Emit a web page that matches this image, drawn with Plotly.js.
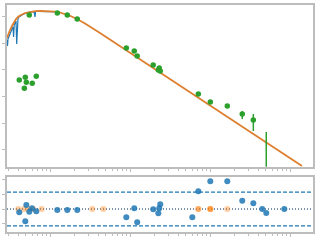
<!DOCTYPE html>
<html><head><meta charset="utf-8">
<script src="https://cdn.plot.ly/plotly-3.0.1.min.js"></script>
<style>html,body{margin:0;padding:0;background:#fff}#c{width:320px;height:240px}</style>
</head><body><div id="c"></div>
<script>
// spectrum (observed)
const specX = [0.290,0.2943,0.2985,0.3072,0.3162,0.3255,0.3350,0.3447,0.3508,0.3569,0.3652,0.3758,0.3835,0.3902,0.3981,0.4097,0.4217,0.4467,0.4732,0.5012,0.5309,0.5623,0.5957,0.6310,0.6494,0.6607,0.7079,0.7943,0.8913,1.0,1.122];
const specY = [0.1331,0.0791,0.1451,0.1881,0.2439,0.2901,0.3448,0.4101,0.1725,0.4875,0.5797,0.6893,0.0941,0.7516,0.8557,0.9743,1.0624,1.1585,1.263,1.377,1.438,1.502,1.528,1.555,0.9743,1.569,1.582,1.596,1.569,1.542,1.502];
// model SED
const modelX = [0.290,0.2985,0.3162,0.335,0.3548,0.3758,0.3981,0.4217,0.4870,0.5623,0.6494,0.7499,0.8660,1.0,1.1548,1.3335,1.5399,1.7783,2.1754,2.7384,4.217,17.78,74.99,316.2,1412.5];
const modelY = [0.1582,0.2051,0.3162,0.4471,0.6321,0.8194,0.9743,1.1095,1.377,1.528,1.610,1.638,1.638,1.610,1.555,1.438,1.263,1.081,0.819,0.5553,0.2439,0.01414,8.195e-4,4.75e-5,2.46e-6];
// photometry
const photX = [0.551,1.234,1.645,2.19,0.413,0.491,0.506,0.478,0.600,0.674,8.99,11.3,12.3,19.5,22.6,23.2,23.9,71.4,100.9,164.5,253,348,505];
const photY = [1.16,1.377,1.16,0.819,0.00417,0.00527,0.00342,0.00203,0.00313,0.00574,0.0666,0.0514,0.0333,0.01528,0.0099,0.01178,0.00909,0.00124,0.000621,0.000440,0.000220,0.0001306,1e-6];
const photErrUp = [0.1,0.1,0.1,0.08,0.0005,0.0006,0.0004,0.0002,0.0004,0.0006,0,0,0,0,0,0,0,0,0,0,0.000065,0.0000894,0.0000453];
const photErrDn = [0.1,0.1,0.1,0.08,0.0005,0.0006,0.0004,0.0002,0.0004,0.0006,0,0,0,0,0,0,0,0,0,0,0.000077,0.0000801,0.0000005];
// residuals
const resX = [0.413,0.506,0.491,0.551,0.596,0.674,1.234,1.645,2.19,8.99,11.3,12.3,19.5,22.6,23.2,23.9,60.1,71.4,100.9,164.5,253,348,450,505,849];
const resY = [-0.226,0.274,-0.842,-0.185,0.048,-0.158,-0.068,-0.068,-0.068,-0.568,0.048,-0.911,-0.021,-0.295,0.048,0.322,-0.568,1.212,1.897,1.897,0.568,0.390,0,-0.274,0];
const resModX = [0.401,0.473,0.535,0.618,0.787,3.38,4.64,71.4,71.4,100.9,100.9,100.9,164.5];
const resModY = [0,0,0,0,0,0,0,0,0,0,0,0,0];
const resLimit = 1.16;

const blue = '#1f77b4', orange = '#ff7f0e', green = '#2ca02c';
const traces = [
  {x: specX, y: specY, type:'scatter', mode:'lines', line:{color:blue, width:1.2}, xaxis:'x', yaxis:'y', hoverinfo:'none'},
  {x: modelX, y: modelY, type:'scatter', mode:'lines', line:{color:'#dd7f2f', width:1.8}, xaxis:'x', yaxis:'y', hoverinfo:'none'},
  {x: photX, y: photY, type:'scatter', mode:'markers', marker:{color:green, size:5.5},
   error_y:{type:'data', symmetric:false, array:photErrUp, arrayminus:photErrDn, color:green, thickness:1.5, width:0},
   xaxis:'x', yaxis:'y', hoverinfo:'none'},
  {x: resModX, y: resModY, type:'scatter', mode:'markers', marker:{color:orange, size:6, opacity:0.4}, xaxis:'x2', yaxis:'y2', hoverinfo:'none'},
  {x: resX, y: resY, type:'scatter', mode:'markers', marker:{color:blue, size:6, opacity:0.85}, xaxis:'x2', yaxis:'y2', hoverinfo:'none'}
];
const frame = '#bdbdbd';
const xcommon = {type:'log', range:[-0.5375,3.2875], dtick:1, showticklabels:false, ticks:'outside', ticklen:3, tickcolor:frame, tickwidth:1,
  minor:{ticks:'outside', ticklen:2, tickcolor:frame, tickwidth:1}, showline:true, mirror:true, linecolor:frame, linewidth:2, showgrid:false, zeroline:false};
const layout = {
  width:320, height:240, margin:{l:7, r:7, t:5, b:8}, showlegend:false,
  paper_bgcolor:'#fff', plot_bgcolor:'#fff',
  xaxis: Object.assign({anchor:'y'}, xcommon),
  xaxis2: Object.assign({anchor:'y2', matches:'x'}, xcommon),
  yaxis: {type:'log', domain:[0.2877,1], range:[-5.639,0.4398], dtick:1, showticklabels:false, ticks:'outside', ticklen:3, tickcolor:frame,
    showline:true, mirror:true, linecolor:frame, linewidth:2, showgrid:false, zeroline:false, anchor:'x'},
  yaxis2: {domain:[0,0.2401], range:[-1.575,2.158], dtick:1, tick0:0, showticklabels:false, ticks:'outside', ticklen:3, tickcolor:frame,
    showline:true, mirror:true, linecolor:frame, linewidth:2, showgrid:false, zeroline:false, anchor:'x2'},
  shapes: [
    {type:'line', xref:'x2 domain', yref:'y2', x0:0, x1:1, y0:resLimit, y1:resLimit, line:{color:blue, width:1.3, dash:'4px,2px'}, layer:'below'},
    {type:'line', xref:'x2 domain', yref:'y2', x0:0, x1:1, y0:-resLimit, y1:-resLimit, line:{color:blue, width:1.3, dash:'4px,2px'}, layer:'below'},
    {type:'line', xref:'x2 domain', yref:'y2', x0:0, x1:1, y0:0, y1:0, line:{color:'#4f6f8f', width:1.3, dash:'1px,2px'}, layer:'below'}
  ]
};
Plotly.newPlot('c', traces, layout, {staticPlot:true, displayModeBar:false});
</script></body></html>
